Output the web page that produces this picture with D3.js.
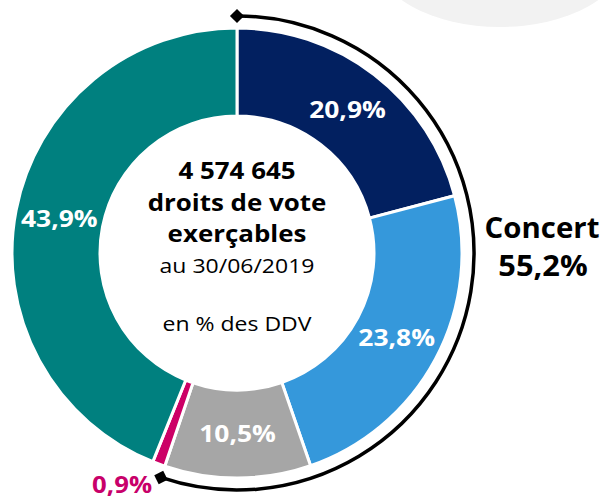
<!DOCTYPE html>
<html><head><meta charset="utf-8">
<script src="https://cdn.jsdelivr.net/npm/d3@7"></script>
<style>
body{margin:0;background:#fff;}
svg{display:block;font-family:"Open Sans",sans-serif;}
</style></head>
<body><svg id="c" width="607" height="499"></svg>
<script>
const categories = ["A","B","Autres","D","E"];
const values = [20.9, 23.8, 10.5, 0.9, 43.9];
const labels = ["20,9%","23,8%","10,5%","0,9%","43,9%"];
const colors = ["#022060","#3598db","#a6a6a6","#cc0066","#00807f"];
const centerBold = ["4 574 645","droits de vote","exerçables"];
const centerReg = ["au 30/06/2019","en % des DDV"];
const concertLabel = ["Concert","55,2%"];
const concertShare = 55.2;

const svg = d3.select("#c");
const cx = 237, cy = 253, R = 225, r = 137, Rb = 237;

// decorative shape
svg.append("ellipse").attr("cx",500).attr("cy",-42).attr("rx",124).attr("ry",69).attr("fill","#f2f2f2");

const g = svg.append("g").attr("transform",`translate(${cx},${cy})`);
const pie = d3.pie().sort(null).value(d=>d);
const arcs = pie(values);
arcs.forEach((d,i)=>{d.label=labels[i];d.idx=i;});
const arc = d3.arc().innerRadius(r).outerRadius(R);
g.selectAll("path.s").data(arcs).join("path").attr("class","s")
  .attr("d",arc).attr("fill",(d,i)=>colors[i]).attr("stroke","#fff").attr("stroke-width",3);

const lab = d3.arc().innerRadius((r+R)/2).outerRadius((r+R)/2);
g.selectAll("text.p").data(arcs.filter(d=>d.idx!==3)).join("text").attr("class","p")
  .attr("transform",d=>{const c=lab.centroid(d);return `translate(${c[0]},${c[1]}) scale(1.15,1)`;})
  .attr("dy","0.36em").attr("text-anchor","middle")
  .attr("fill","#fff").attr("font-weight","bold").attr("font-size",23)
  .text(d=>d.label);

// small slice label
const small = arcs[3];
const la = (small.startAngle+small.endAngle)/2;
g.append("text").attr("transform",`translate(${Math.sin(la)*250+2},${-Math.cos(la)*250+6}) scale(1.12,1)`)
  .attr("text-anchor","end").attr("fill","#c8006a").attr("font-weight","bold").attr("font-size",23)
  .text(small.label);

// bracket
const endA = concertShare/100*2*Math.PI;
g.append("path").attr("d",d3.arc()({innerRadius:Rb,outerRadius:Rb,startAngle:0,endAngle:endA}))
  .attr("fill","none").attr("stroke","#000").attr("stroke-width",3.5);
[0,endA].forEach(a=>{
  g.append("path").attr("d",d3.symbol(d3.symbolSquare,100)())
   .attr("transform",`translate(${Math.sin(a)*Rb},${-Math.cos(a)*Rb}) rotate(${a*180/Math.PI+45})`)
   .attr("fill","#000");
});

// center text
const ct = svg.append("g").attr("text-anchor","middle").attr("fill","#000");
const bY = [179,211,242];
centerBold.forEach((t,i)=>ct.append("text").attr("transform",`translate(${cx},${bY[i]}) scale(1.08,1)`).attr("font-weight","bold").attr("font-size",24).text(t));
const rY = [273,331];
centerReg.forEach((t,i)=>ct.append("text").attr("transform",`translate(${cx},${rY[i]}) scale(1.15,1)`).attr("font-size",20).text(t));

// concert label
const cl = svg.append("g").attr("text-anchor","middle").attr("font-weight","bold").attr("font-size",28);
cl.append("text").attr("transform","translate(542,238) scale(1.05,1)").text(concertLabel[0]);
cl.append("text").attr("transform","translate(543,276) scale(1.1,1)").text(concertLabel[1]);
</script></body></html>
